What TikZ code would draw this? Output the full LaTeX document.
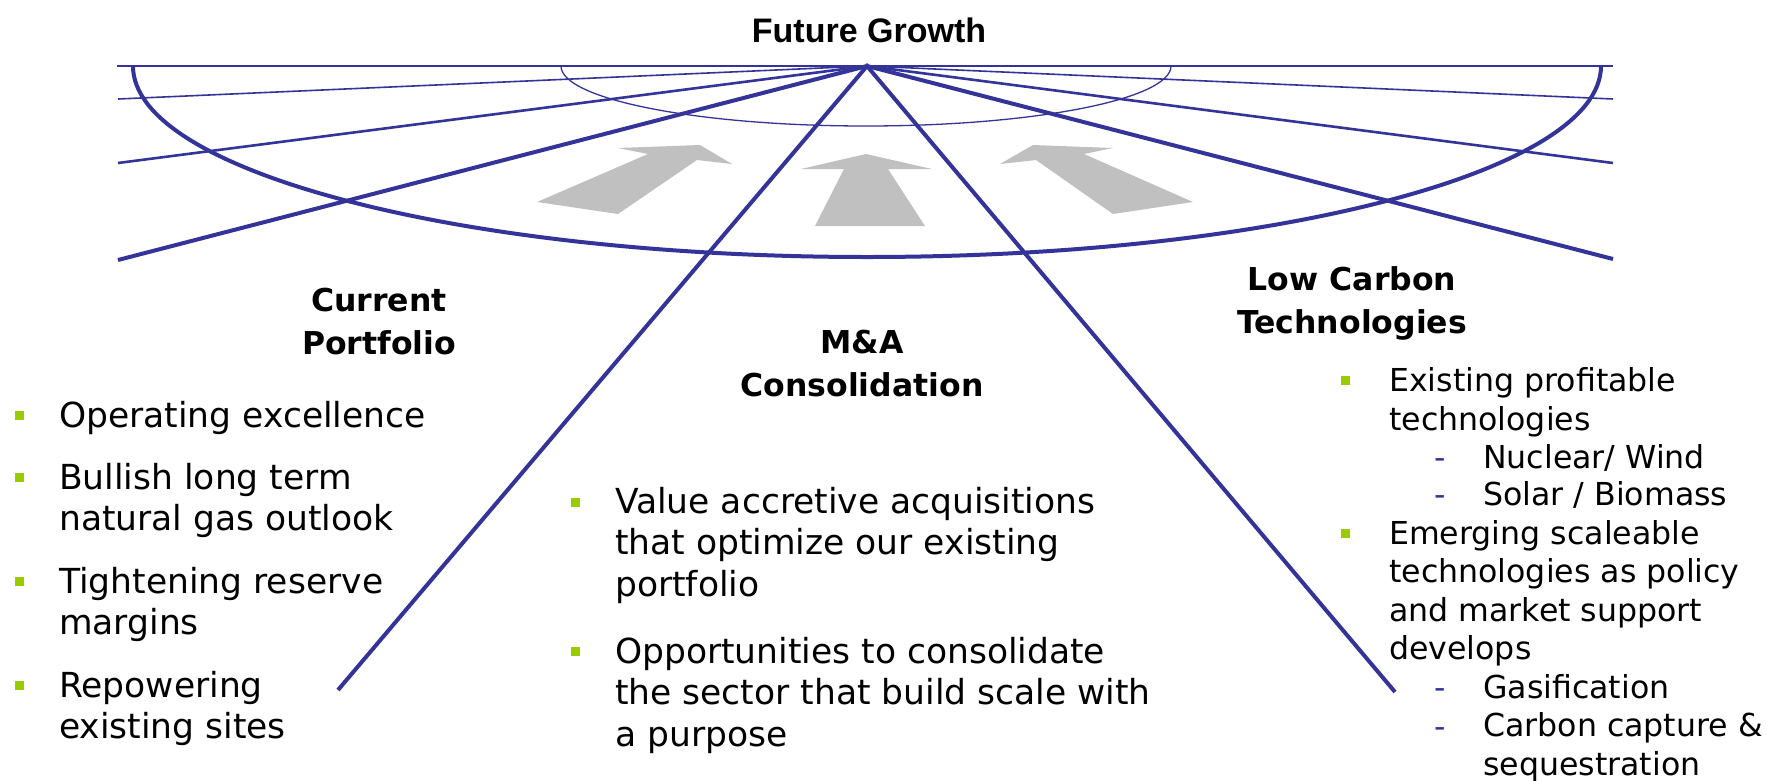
\documentclass[tikz,border=0pt]{standalone}
\usepackage{fontspec}
\setmainfont{DejaVu Sans}
\newfontfamily\titlefont{Liberation Sans}
\usetikzlibrary{positioning}

% base anchor of a multi-line node sits on its last line
\tikzset{
  bodytext/.style={inner sep=0, anchor=base west, align=left, font=\fontsize{34.5}{41.5}\selectfont},
  subtext/.style={bodytext, font=\fontsize{31.6}{38.5}\selectfont},
  headtext/.style={inner sep=0, anchor=base, align=center, font=\fontsize{31.5}{43.5}\selectfont\bfseries},
  greenbox/.style={inner sep=0, minimum size=9pt, fill=bullet_green},
  dashmark/.style={inner sep=0, anchor=base west, text=ray_blue, font=\fontsize{31.6}{38.5}\selectfont},
}

\begin{document}
\begin{tikzpicture}[x=1pt,y=-1pt]
    \definecolor{ray_blue}{RGB}{51,51,153}
    \definecolor{arrow_grey}{RGB}{192,192,192}
    \definecolor{bullet_green}{RGB}{153,204,0}
    \useasboundingbox (0,0) rectangle (1767,780);

    % rays out of the growth point
    \coordinate (apex) at (867,66);
    \coordinate (l_0) at (117,66);  \coordinate (r_0) at (1613,66);
    \coordinate (l_1) at (118,99);  \coordinate (r_1) at (1613,99);
    \coordinate (l_2) at (118,163); \coordinate (r_2) at (1613,163);
    \coordinate (l_3) at (118,260); \coordinate (r_3) at (1613,259);
    \coordinate (l_4) at (338,690); \coordinate (r_4) at (1395,692);

    \draw[ray_blue, line width=1.3pt] (l_0) -- (r_0);
    \draw[ray_blue, line width=1.6pt] (l_1) -- (apex) -- (r_1);
    \draw[ray_blue, line width=2.6pt] (l_2) -- (apex) -- (r_2);
    \draw[ray_blue, line width=4pt] (l_3) -- (apex) -- (r_3);
    \draw[ray_blue, line width=4pt] (l_4) -- (apex) -- (r_4);

    % half ellipses
    \draw[ray_blue, line width=1.3pt] (561,66) arc[start angle=180, end angle=360, x radius=305pt, y radius=60pt];
    \draw[ray_blue, line width=4pt] (133,66) arc[start angle=180, end angle=360, x radius=734pt, y radius=191pt];

    % grey arrows
    \fill[arrow_grey] (537,202) -- (618,214) -- (697,160) -- (732,164) -- (700,145) -- (618,148) -- (648,154) -- cycle;
    \fill[arrow_grey] (815,226) -- (925,226) -- (888,169) -- (932,169) -- (866,154) -- (801,169) -- (844,169) -- cycle;
    \fill[arrow_grey] (1193,202) -- (1113,214) -- (1036,160) -- (1000,164) -- (1033,145) -- (1113,148) -- (1084,154) -- cycle;

    % headings
    \node[inner sep=0, anchor=base, font=\titlefont\fontsize{34}{40}\selectfont\bfseries] (future) at (869,42) {Future Growth};
    \node[headtext] (current) at (379,354.5) {Current\\Portfolio};
    \node[headtext] (merger) at (862,396.5) {M\&A\\Consolidation};
    \node[headtext] (lowcarbon) at (1352,333.5) {Low Carbon\\Technologies};

    % current portfolio
    \node[greenbox] (b_op) at (19.5,415.5) {};
    \node[bodytext] (op) at (59,427) {Operating excellence};
    \node[greenbox] (b_bull) at (19.5,477.5) {};
    \node[bodytext] (bull) at (59,530.5) {Bullish long term\\natural gas outlook};
    \node[greenbox] (b_tight) at (19.5,581.5) {};
    \node[bodytext] (tight) at (59,634.5) {Tightening reserve\\margins};
    \node[greenbox] (b_repow) at (19.5,685.5) {};
    \node[bodytext] (repow) at (59,738.5) {Repowering\\existing sites};

    % m&a consolidation
    \node[greenbox] (b_value) at (575,502) {};
    \node[bodytext] (value) at (615,596) {Value accretive acquisitions\\that optimize our existing\\portfolio};
    \node[greenbox] (b_opp) at (575,651.5) {};
    \node[bodytext] (opp) at (615,746) {Opportunities to consolidate\\the sector that build scale with\\a purpose};

    % low carbon technologies
    \node[greenbox] (b_exist) at (1345,380) {};
    \node[subtext] (exist) at (1389,430) {Existing profitable\\technologies};
    \node[dashmark] (d_nuc) at (1434,468) {-};
    \node[subtext] (nuc) at (1483,468) {Nuclear/ Wind};
    \node[dashmark] (d_sol) at (1434,505) {-};
    \node[subtext] (sol) at (1483,505) {Solar / Biomass};
    \node[greenbox] (b_emerg) at (1345,533) {};
    \node[subtext] (emerg) at (1389,659.5) {Emerging scaleable\\technologies as policy\\and market support\\develops};
    \node[dashmark] (d_gas) at (1434,698) {-};
    \node[subtext] (gas) at (1483,698) {Gasification};
    \node[dashmark] (d_carb) at (1434,737) {-};
    \node[subtext] (carb) at (1483,775) {Carbon capture \&\\sequestration};

\end{tikzpicture}
\end{document}
